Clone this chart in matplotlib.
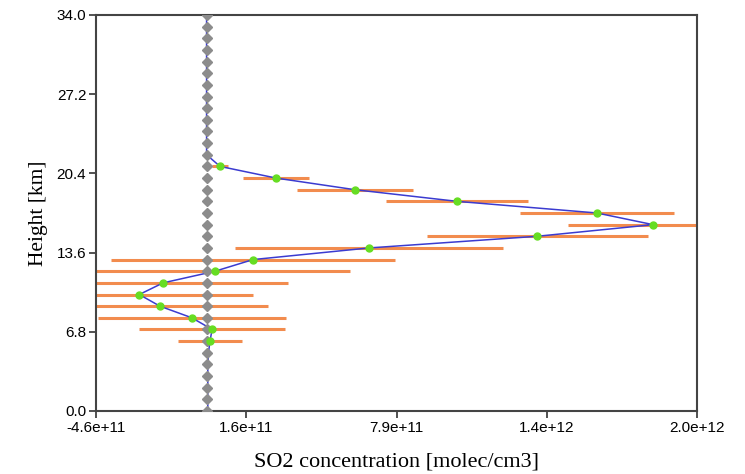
import numpy as np
import matplotlib
matplotlib.use("Agg")
import matplotlib.pyplot as plt

# --------------------------
# data
# --------------------------
heights_km = np.arange(0, 35)  # retrieval grid, 1 km steps
apriori = np.zeros(35)          # a priori profile (grey diamonds)

retrieved = np.array([
    5e9, 5e9, 5e9, 5e9, 5e9, 8e9, 1.4e10, 2.3e10, -6.1e10, -1.94e11,
    -2.8e11, -1.81e11, 3.5e10, 1.93e11, 6.76e11, 1.375e12, 1.857e12,
    1.624e12, 1.042e12, 6.17e11, 2.89e11, 5.6e10,
    0, 0, 0, 0, 0, 0, 0, 0, 0, 0, 0, 0, 0,
])

# levels with error bars (green points) and their half widths
err_heights = np.arange(6, 22)
err_halfwidth = np.array([
    1.33e11, 3.04e11, 3.9e11, 4.5e11, 4.74e11, 5.2e11, 5.6e11, 5.9e11,
    5.57e11, 4.6e11, 3.54e11, 3.2e11, 2.95e11, 2.4e11, 1.37e11, 3.3e10,
])

x_min, x_max = -4.6e11, 2.04e12
x_ticklabels = ["-4.6e+11", "1.6e+11", "7.9e+11", "1.4e+12", "2.0e+12"]
y_ticks = [0.0, 6.8, 13.6, 20.4, 27.2, 34.0]

# --------------------------
# plot
# --------------------------
fig = plt.figure(figsize=(7.45, 4.74), dpi=100)
ax = fig.add_axes([96 / 745, 63 / 474, 601 / 745, 396 / 474])

err_x = retrieved[err_heights]
ax.hlines(err_heights, err_x - err_halfwidth, err_x + err_halfwidth,
          colors="#f28c4e", linewidth=2.2, zorder=1)
ax.plot(retrieved, heights_km, color="#3b3bd0", linewidth=1.1, zorder=2)
ax.plot(apriori, heights_km, linestyle="none", marker="D", markersize=4.6,
        color="#8c8c8c", zorder=3)
ax.plot(err_x, err_heights, linestyle="none", marker="o", markersize=5,
        color="#66dd22", zorder=4)

ax.set_xlim(x_min, x_max)
ax.set_ylim(0, 34)
ax.set_xticks(np.linspace(x_min, x_max, 5))
ax.set_xticklabels(x_ticklabels)
ax.set_yticks(y_ticks)
ax.set_yticklabels([f"{v:.1f}" for v in y_ticks])

tick_font = ["Liberation Sans Narrow", "Liberation Sans", "DejaVu Sans"]
for lab in ax.get_xticklabels() + ax.get_yticklabels():
    lab.set_family(tick_font)
    lab.set_fontsize(11)
ax.tick_params(direction="out", length=5, width=1.2, color="#333333", pad=2)

for sp in ax.spines.values():
    sp.set_color("#444444")
    sp.set_linewidth(1.5)

ax.set_xlabel("SO2 concentration [molec/cm3]", family="Liberation Serif",
              fontsize=16, labelpad=13)
ax.set_ylabel("Height [km]", family="Liberation Serif", fontsize=15.5,
              labelpad=6)

plt.savefig("out.png", dpi=100)
